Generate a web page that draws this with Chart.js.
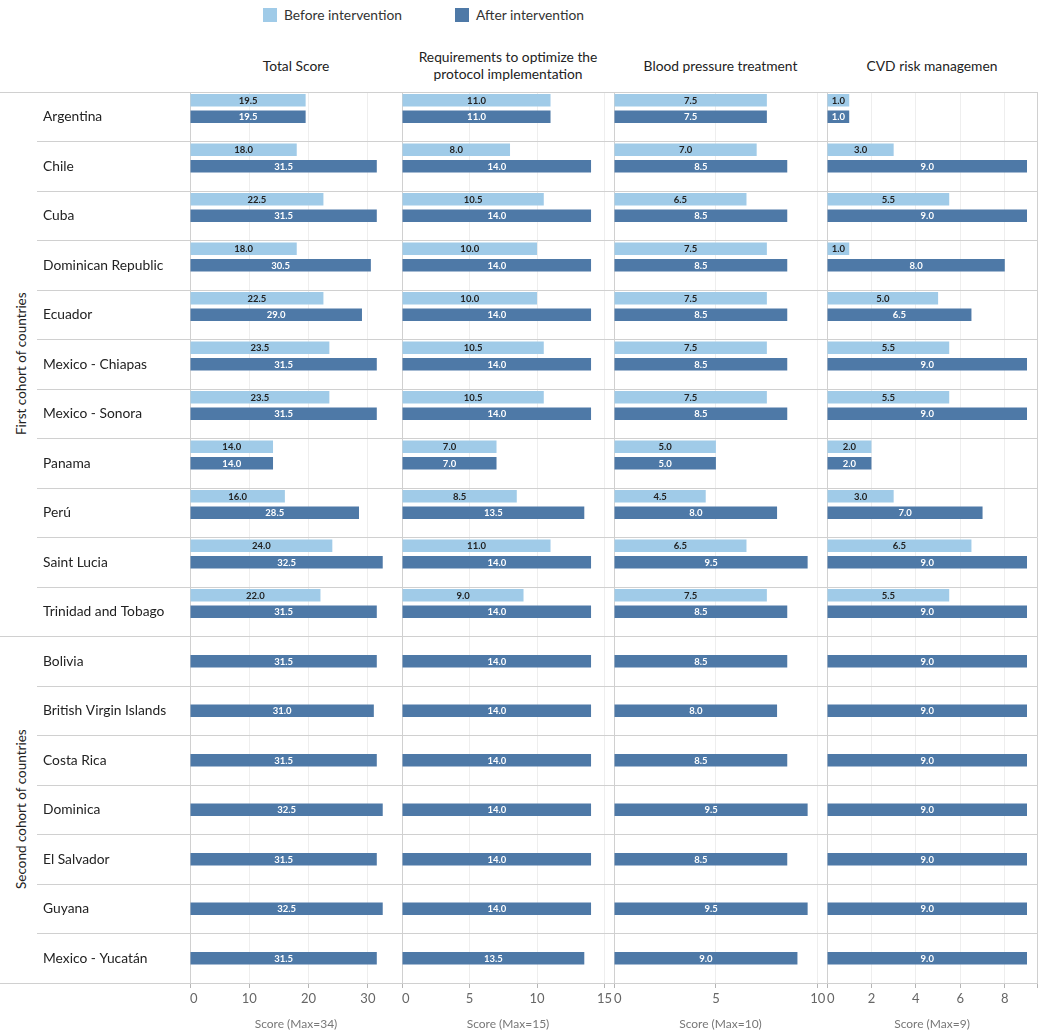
<!DOCTYPE html>
<html>
<head>
<meta charset="utf-8">
<script src="https://cdn.jsdelivr.net/npm/chart.js@4.4.1/dist/chart.umd.min.js"></script>
<style>
  body { margin: 0; background: #fff; font-family: Lato, sans-serif; color: #333; }
  #wrap { position: relative; width: 1040px; height: 1034px; overflow: hidden; }
  .pane { position: absolute; top: 80px; height: 954px; }
  .head { position: absolute; top: 40px; height: 50px; display: flex; align-items: center;
          justify-content: center; text-align: center; font-size: 13.8px; line-height: 17px; color: #222; }
  .legend { position: absolute; top: 6px; display: flex; align-items: center; font-size: 13.8px; color: #333; }
  .legend span.box { display: inline-block; width: 14px; height: 14px; margin-right: 7px; }
  .cohort { position: absolute; left: 11px; width: 20px; display: flex; align-items: center; justify-content: center;
            writing-mode: vertical-rl; transform: rotate(180deg); font-size: 13.5px; color: #222; white-space: nowrap; }
</style>
</head>
<body>
<div id="wrap">
  <div class="legend" style="left:263px"><span class="box" style="background:#a0cbe8"></span>Before intervention</div>
  <div class="legend" style="left:455px"><span class="box" style="background:#4e79a7"></span>After intervention</div>

  <div class="head" style="left:190px;width:212px">Total Score</div>
  <div class="head" style="left:402px;width:212px">Requirements to optimize the<br>protocol implementation</div>
  <div class="head" style="left:614px;width:213px">Blood pressure treatment</div>
  <div class="head" style="left:827px;width:210px">CVD risk managemen</div>

  <div class="cohort" style="top:92px;height:544px">First cohort of countries</div>
  <div class="cohort" style="top:636px;height:347px">Second cohort of countries</div>

  <div class="pane" style="left:0px;width:405px"><canvas id="p0"></canvas></div>
  <div class="pane" style="left:399px;width:218px"><canvas id="p1"></canvas></div>
  <div class="pane" style="left:611px;width:219px"><canvas id="p2"></canvas></div>
  <div class="pane" style="left:824px;width:216px"><canvas id="p3"></canvas></div>
</div>
<script>
// countries, grouped by cohort
const firstCohort = ['Argentina', 'Chile', 'Cuba', 'Dominican Republic', 'Ecuador', 'Mexico - Chiapas',
  'Mexico - Sonora', 'Panama', 'Perú', 'Saint Lucia', 'Trinidad and Tobago'];
const secondCohort = ['Bolivia', 'British Virgin Islands', 'Costa Rica', 'Dominica', 'El Salvador',
  'Guyana', 'Mexico - Yucatán'];
const countries = firstCohort.concat(secondCohort);

// "before" only exists for the first cohort
const totalBefore = [19.5, 18.0, 22.5, 18.0, 22.5, 23.5, 23.5, 14.0, 16.0, 24.0, 22.0];
const totalAfter = [19.5, 31.5, 31.5, 30.5, 29.0, 31.5, 31.5, 14.0, 28.5, 32.5, 31.5,
  31.5, 31.0, 31.5, 32.5, 31.5, 32.5, 31.5];

const reqBefore = [11.0, 8.0, 10.5, 10.0, 10.0, 10.5, 10.5, 7.0, 8.5, 11.0, 9.0];
const reqAfter = [11.0, 14.0, 14.0, 14.0, 14.0, 14.0, 14.0, 7.0, 13.5, 14.0, 14.0,
  14.0, 14.0, 14.0, 14.0, 14.0, 14.0, 13.5];

const bpBefore = [7.5, 7.0, 6.5, 7.5, 7.5, 7.5, 7.5, 5.0, 4.5, 6.5, 7.5];
const bpAfter = [7.5, 8.5, 8.5, 8.5, 8.5, 8.5, 8.5, 5.0, 8.0, 9.5, 8.5,
  8.5, 8.0, 8.5, 9.5, 8.5, 9.5, 9.0];

const cvdBefore = [1.0, 3.0, 5.5, 1.0, 5.0, 5.5, 5.5, 2.0, 3.0, 6.5, 5.5];
const cvdAfter = [1.0, 9.0, 9.0, 8.0, 6.5, 9.0, 9.0, 2.0, 7.0, 9.0, 9.0,
  9.0, 9.0, 9.0, 9.0, 9.0, 9.0, 9.0];

const axisTitles = ['Score (Max=34)', 'Score (Max=15)', 'Score (Max=10)', 'Score (Max=9)'];
const axisMax = [35.75, 15.7, 10.45, 9.45];
const axisStep = [10, 5, 5, 2];

const LINE = '#d0d0d0';
const FONT = 'Lato';

// value text centred inside each bar
const valueLabels = {
  id: 'valueLabels',
  afterDatasetsDraw(chart) {
    const ctx = chart.ctx;
    ctx.save();
    ctx.font = 'bold 9.5px ' + FONT;
    ctx.textAlign = 'center';
    ctx.textBaseline = 'middle';
    chart.data.datasets.forEach((ds, di) => {
      if (!ds.labelColor) return;
      chart.getDatasetMeta(di).data.forEach((bar, j) => {
        const v = ds.data[j];
        if (v == null) return;
        ctx.fillStyle = ds.labelColor;
        ctx.fillText(v.toFixed(1), (bar.x + bar.base) / 2, bar.y + 0.5);
      });
    });
    ctx.restore();
  }
};

// cohort separators run across the cohort-name column too
const cohortLines = {
  id: 'cohortLines',
  afterDraw(chart) {
    const ys = chart.scales.y;
    const ctx = chart.ctx;
    ctx.save();
    ctx.strokeStyle = LINE;
    ctx.lineWidth = 1;
    [0, firstCohort.length, countries.length].forEach(b => {
      const py = Math.round(ys.getPixelForValue(b - 0.5) - 0.5) + 0.5;
      ctx.beginPath();
      ctx.moveTo(0, py);
      ctx.lineTo(chart.chartArea.left, py);
      ctx.stroke();
    });
    ctx.restore();
  }
};

function pad(arr) {
  const out = arr.slice();
  while (out.length < countries.length) out.push(null);
  return out;
}

function makePanel(id, i, before, after) {
  const first = i === 0;
  const max = axisMax[i];
  return new Chart(document.getElementById(id), {
    type: 'bar',
    data: {
      labels: countries,
      datasets: [
        { label: 'Before intervention', data: pad(before), backgroundColor: '#a0cbe8', labelColor: '#222' },
        { label: 'After intervention', data: after, backgroundColor: '#4e79a7', labelColor: '#ffffff' },
        { label: '', data: pad([]), backgroundColor: 'rgba(0,0,0,0)' }
      ]
    },
    options: {
      indexAxis: 'y',
      responsive: true,
      maintainAspectRatio: false,
      animation: false,
      categoryPercentage: 1,
      barPercentage: 0.76,
      layout: { padding: { left: first ? 43 : 3, right: 3, top: 12, bottom: 0 } },
      plugins: { legend: { display: false }, tooltip: { enabled: false } },
      scales: {
        x: {
          type: 'linear',
          min: 0,
          max: max,
          // the pane edge gets a tick (for the frame line) but no label
          afterBuildTicks: s => { s.ticks.push({ value: s.max }); },
          afterFit: s => { s.height = 51; },
          ticks: {
            stepSize: axisStep[i],
            includeBounds: false,
            autoSkip: false,
            align: 'inner',
            padding: 3,
            color: '#666',
            font: { family: FONT, size: 13 },
            callback: v => (v === max ? '' : v)
          },
          grid: {
            color: c => (c.tick && c.tick.value === max ? LINE : '#eeeeee'),
            tickColor: '#b5b5b5',
            tickLength: 5
          },
          border: { display: true, color: LINE },
          title: {
            display: true,
            text: axisTitles[i],
            color: '#777',
            font: { family: FONT, size: 12 },
            padding: { top: 0, bottom: 3 }
          }
        },
        y: {
          type: 'category',
          offset: true,
          afterFit: s => { s.width = first ? 147 : 0; },
          grid: {
            offset: true,
            color: LINE,
            tickColor: LINE,
            drawTicks: first,
            tickLength: 153
          },
          border: { display: true, color: LINE },
          ticks: {
            display: first,
            crossAlign: 'far',
            padding: 0,
            color: '#222',
            font: { family: FONT, size: 13.8 }
          }
        }
      }
    },
    plugins: first ? [valueLabels, cohortLines] : [valueLabels]
  });
}

makePanel('p0', 0, totalBefore, totalAfter);
makePanel('p1', 1, reqBefore, reqAfter);
makePanel('p2', 2, bpBefore, bpAfter);
makePanel('p3', 3, cvdBefore, cvdAfter);
</script>
</body>
</html>
